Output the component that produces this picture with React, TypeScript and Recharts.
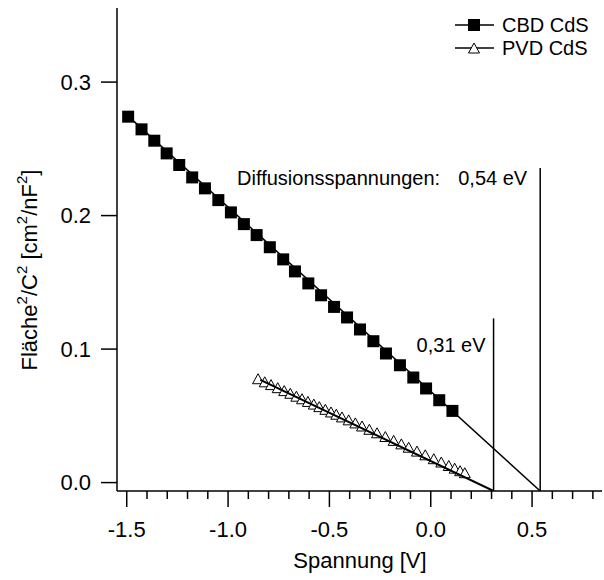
import { ScatterChart, Scatter, XAxis, YAxis, ReferenceLine, Legend } from 'recharts'

// CBD CdS (filled squares)
const cbdVoltage = [
  -1.493, -1.427, -1.364, -1.303, -1.241, -1.177, -1.114, -1.048, -0.986, -0.922, -0.859, -0.794, -0.728,
  -0.67, -0.604, -0.541, -0.477, -0.413, -0.349, -0.283, -0.221, -0.152, -0.086, -0.023, 0.042, 0.107,
]
const cbdCapacity = [
  0.2741, 0.2646, 0.2561, 0.2466, 0.2379, 0.2286, 0.2204, 0.2116, 0.2024, 0.1936, 0.1854, 0.1763, 0.1672,
  0.1582, 0.1492, 0.1403, 0.1316, 0.1237, 0.1147, 0.1059, 0.0967, 0.0879, 0.0787, 0.0705, 0.0617, 0.0537,
]

// PVD CdS (open triangles)
const pvdVoltage = [
  -0.852, -0.819, -0.788, -0.755, -0.723, -0.693, -0.663, -0.635, -0.606, -0.577, -0.55, -0.52, -0.492, -0.466,
  -0.438, -0.405, -0.372, -0.339, -0.303, -0.265, -0.224, -0.183, -0.145, -0.109, -0.068, -0.027, 0.015, 0.052,
  0.089, 0.118, 0.145, 0.168,
]
const pvdCapacity = [
  0.0778, 0.0755, 0.0734, 0.0711, 0.0689, 0.0669, 0.0647, 0.0628, 0.0608, 0.0588, 0.0569, 0.0549, 0.0529, 0.0512,
  0.0492, 0.047, 0.0447, 0.0424, 0.0399, 0.0373, 0.0345, 0.0316, 0.029, 0.0265, 0.0236, 0.0208, 0.0179, 0.0154,
  0.0128, 0.0108, 0.0089, 0.0074,
]

// linear fits down to the axis
const cbdFitVoltage = [-1.493, 0.54]
const cbdFitCapacity = [0.2745, -0.0063]
const pvdFitVoltage = [-0.841, 0.31]
const pvdFitCapacity = [0.0769, -0.0063]

// diffusion voltage markers
const diffusionVoltage = [0.31, 0.54]
const diffusionTop = [0.123, 0.2356]
const diffusionLabel = ['0,31 eV', '0,54 eV']

const xTicks = [-1.5, -1.4, -1.3, -1.2, -1.1, -1.0, -0.9, -0.8, -0.7, -0.6, -0.5, -0.4, -0.3, -0.2, -0.1, 0.0, 0.1, 0.2, 0.3, 0.4, 0.5, 0.6, 0.7, 0.8]
const yTicks = [0.0, 0.1, 0.2, 0.3]

const X_DOMAIN: [number, number] = [-1.548, 0.845]
const Y_DOMAIN: [number, number] = [-0.0063, 0.3555]
const FONT = '"Liberation Sans", Arial, sans-serif'

const toPoints = (xs: number[], ys: number[]) => xs.map((x, i) => ({ x, y: ys[i] }))

const cbdData = toPoints(cbdVoltage, cbdCapacity)
const pvdData = toPoints(pvdVoltage, pvdCapacity)
const cbdFit = toPoints(cbdFitVoltage, cbdFitCapacity)
const pvdFit = toPoints(pvdFitVoltage, pvdFitCapacity)

const Square = ({ cx, cy }: any) => <rect x={cx - 6} y={cy - 6} width={12} height={12} fill="#000" />

const OpenTriangle = ({ cx, cy }: any) => (
  <path
    d={`M${cx},${cy - 5} L${cx + 5.5},${cy + 5} L${cx - 5.5},${cy + 5} Z`}
    fill="#fff"
    stroke="#000"
    strokeWidth={1}
  />
)

const NoDot = () => <g />

function VoltageTick({ x, y, payload }: any) {
  const v = payload.value as number
  const major = Math.abs(v * 2 - Math.round(v * 2)) < 1e-6
  return (
    <g>
      <line x1={x} x2={x} y1={y} y2={y + (major ? 16 : 8)} stroke="#000" strokeWidth={1.5} />
      {major && (
        <text x={x} y={y + 46} textAnchor="middle" fontSize={22} fontFamily={FONT} fill="#000">
          {v.toFixed(1)}
        </text>
      )}
    </g>
  )
}

function LegendBox({ payload }: any) {
  const names: string[] = (payload ?? []).map((p: any) => p.value).filter((n: string) => n === 'CBD CdS' || n === 'PVD CdS')
  return (
    <svg width={154} height={52} style={{ display: 'block' }}>
      {names.map((name, i) => {
        const cy = 15 + i * 23
        return (
          <g key={name}>
            <line x1={5} x2={44} y1={cy} y2={cy} stroke="#000" strokeWidth={1.5} />
            {name === 'CBD CdS' ? <Square cx={24} cy={cy} /> : <OpenTriangle cx={24} cy={cy} />}
            <text x={52} y={cy + 7} fontSize={20} fontFamily={FONT} fill="#000">
              {name}
            </text>
          </g>
        )
      })}
    </svg>
  )
}

export default function App() {
  return (
    <div style={{ position: 'absolute', left: 0, top: 0 }}>
      <ScatterChart width={604} height={580} margin={{ top: 8, right: 2, bottom: 0, left: 0 }} style={{ fontFamily: FONT }}>
        <XAxis
          type="number"
          dataKey="x"
          domain={X_DOMAIN}
          allowDataOverflow
          ticks={xTicks}
          interval={0}
          height={89}
          tickSize={0}
          tickMargin={0}
          tickLine={false}
          tick={<VoltageTick />}
          axisLine={{ stroke: '#000', strokeWidth: 1.5 }}
          label={{
            content: () => (
              <text x={360} y={568} textAnchor="middle" fontSize={22} fontFamily={FONT} fill="#000">
                Spannung [V]
              </text>
            ),
          }}
        />
        <XAxis
          xAxisId="top"
          orientation="top"
          type="number"
          dataKey="x"
          domain={X_DOMAIN}
          allowDataOverflow
          height={0}
          tick={false}
          tickLine={false}
          axisLine={{ stroke: '#000', strokeWidth: 1.5 }}
        />
        <YAxis
          type="number"
          dataKey="y"
          domain={Y_DOMAIN}
          allowDataOverflow
          ticks={yTicks}
          interval={0}
          width={117}
          tickSize={16}
          tickMargin={10}
          tickFormatter={(v: number) => v.toFixed(1)}
          tick={{ fill: '#000', fontSize: 22, fontFamily: FONT }}
          tickLine={{ stroke: '#000', strokeWidth: 1.5 }}
          axisLine={{ stroke: '#000', strokeWidth: 1.5 }}
          label={{
            content: () => (
              <text
                x={37}
                y={270}
                transform="rotate(-90 37 270)"
                textAnchor="middle"
                fontSize={22}
                fontFamily={FONT}
                fill="#000"
              >
                Fläche
                <tspan fontSize={15} dy={-10}>2</tspan>
                <tspan dy={10}>/C</tspan>
                <tspan fontSize={15} dy={-10}>2</tspan>
                <tspan dy={10}> [cm</tspan>
                <tspan fontSize={15} dy={-10}>2</tspan>
                <tspan dy={10}>/nF</tspan>
                <tspan fontSize={15} dy={-10}>2</tspan>
                <tspan dy={10}>]</tspan>
              </text>
            ),
          }}
        />
        <YAxis
          yAxisId="right"
          orientation="right"
          type="number"
          dataKey="y"
          domain={Y_DOMAIN}
          allowDataOverflow
          width={0}
          tick={false}
          tickLine={false}
          axisLine={{ stroke: '#000', strokeWidth: 1.5 }}
        />

        <ReferenceLine
          segment={[
            { x: diffusionVoltage[0], y: Y_DOMAIN[0] },
            { x: diffusionVoltage[0], y: diffusionTop[0] },
          ]}
          stroke="#000"
          strokeWidth={1.5}
          label={{
            content: ({ viewBox }: any) => (
              <text x={viewBox.x - 8} y={viewBox.y + 34} textAnchor="end" fontSize={20} fontFamily={FONT} fill="#000">
                {diffusionLabel[0]}
              </text>
            ),
          }}
        />
        <ReferenceLine
          segment={[
            { x: diffusionVoltage[1], y: Y_DOMAIN[0] },
            { x: diffusionVoltage[1], y: diffusionTop[1] },
          ]}
          stroke="#000"
          strokeWidth={1.5}
          label={{
            content: ({ viewBox }: any) => (
              <g>
                <text x={viewBox.x - 100} y={viewBox.y + 17} textAnchor="end" fontSize={20} fontFamily={FONT} fill="#000">
                  Diffusionsspannungen:
                </text>
                <text x={viewBox.x - 13} y={viewBox.y + 17} textAnchor="end" fontSize={20} fontFamily={FONT} fill="#000">
                  {diffusionLabel[1]}
                </text>
              </g>
            ),
          }}
        />

        <Scatter name="CBD CdS" data={cbdData} shape={<Square />} isAnimationActive={false} />
        <Scatter name="PVD CdS" data={pvdData} shape={<OpenTriangle />} isAnimationActive={false} />
        <Scatter
          name="CBD fit"
          data={cbdFit}
          line={{ stroke: '#000', strokeWidth: 1.5 }}
          shape={<NoDot />}
          legendType="none"
          isAnimationActive={false}
        />
        <Scatter
          name="PVD fit"
          data={pvdFit}
          line={{ stroke: '#000', strokeWidth: 2 }}
          shape={<NoDot />}
          legendType="none"
          isAnimationActive={false}
        />

        <Legend
          layout="vertical"
          align="center"
          verticalAlign="middle"
          content={<LegendBox />}
          wrapperStyle={{ left: 450, top: 10, width: 154, height: 52 }}
        />
      </ScatterChart>
    </div>
  )
}
